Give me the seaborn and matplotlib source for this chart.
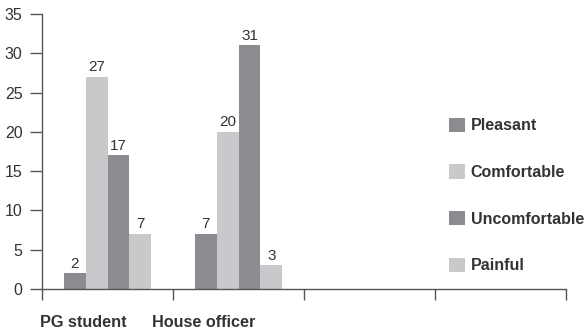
import pandas as pd
import matplotlib
matplotlib.use("Agg")
import matplotlib.pyplot as plt
import seaborn as sns

# chart data
groups = ["PG student", "House officer"]
responses = ["Pleasant", "Comfortable", "Uncomfortable", "Painful"]
pg_student = [2, 27, 17, 7]
house_officer = [7, 20, 31, 3]
colors = ["#8b8c90", "#c8c9cb", "#8b8c90", "#c8c9cb"]

df = pd.DataFrame({
    "group": [groups[0]] * 4 + [groups[1]] * 4,
    "response": responses * 2,
    "count": pg_student + house_officer,
})

sns.set_style("white")
plt.rcParams["font.family"] = ["Liberation Sans", "DejaVu Sans"]
text_col = "#333333"
axis_col = "#555555"

fig = plt.figure(figsize=(5.88, 3.35), dpi=100)
ax = fig.add_axes([42 / 588, 46 / 335, 524 / 588, 275 / 335])

# 4 category slots, only first two used
order = groups + ["slot3", "slot4"]
sns.barplot(data=df, x="group", y="count", hue="response", order=order,
            hue_order=responses, palette=colors, width=0.67, saturation=1,
            linewidth=0, ax=ax)

for cont in ax.containers:
    ax.bar_label(cont, padding=2, fontsize=11, color=text_col)

ax.set_xlim(-0.5, 3.5)
ax.set_ylim(0, 35)
ax.set_yticks(range(0, 36, 5))
ax.set_xticks([])
ax.set_xticks([-0.5, 0.5, 1.5, 2.5, 3.5], minor=True)
ax.tick_params(axis="x", which="minor", direction="out", length=8,
               color=axis_col, width=1, bottom=True)
ax.tick_params(axis="y", direction="out", length=9, color=axis_col,
               width=1, labelsize=11.5, labelcolor=text_col, left=True, pad=5)
ax.set_xlabel("")
ax.set_ylabel("")
for s in ["top", "right"]:
    ax.spines[s].set_visible(False)
for s in ["left", "bottom"]:
    ax.spines[s].set_color(axis_col)
    ax.spines[s].set_linewidth(1)

# group labels under the axis
ax.text(-0.515, -4.3, groups[0], ha="left", va="center", fontsize=11.7,
        fontweight="bold", color=text_col)
ax.text(0.34, -4.3, groups[1], ha="left", va="center", fontsize=11.7,
        fontweight="bold", color=text_col)

leg = ax.legend(loc="center left", bbox_to_anchor=(0.777, 0.34), frameon=False,
                labelspacing=1.95, handlelength=1.0, handleheight=1.0,
                handletextpad=0.35, borderpad=0, borderaxespad=0,
                prop={"weight": "bold", "size": 11.5})
for t in leg.get_texts():
    t.set_color(text_col)

fig.savefig("out.png", dpi=100)
